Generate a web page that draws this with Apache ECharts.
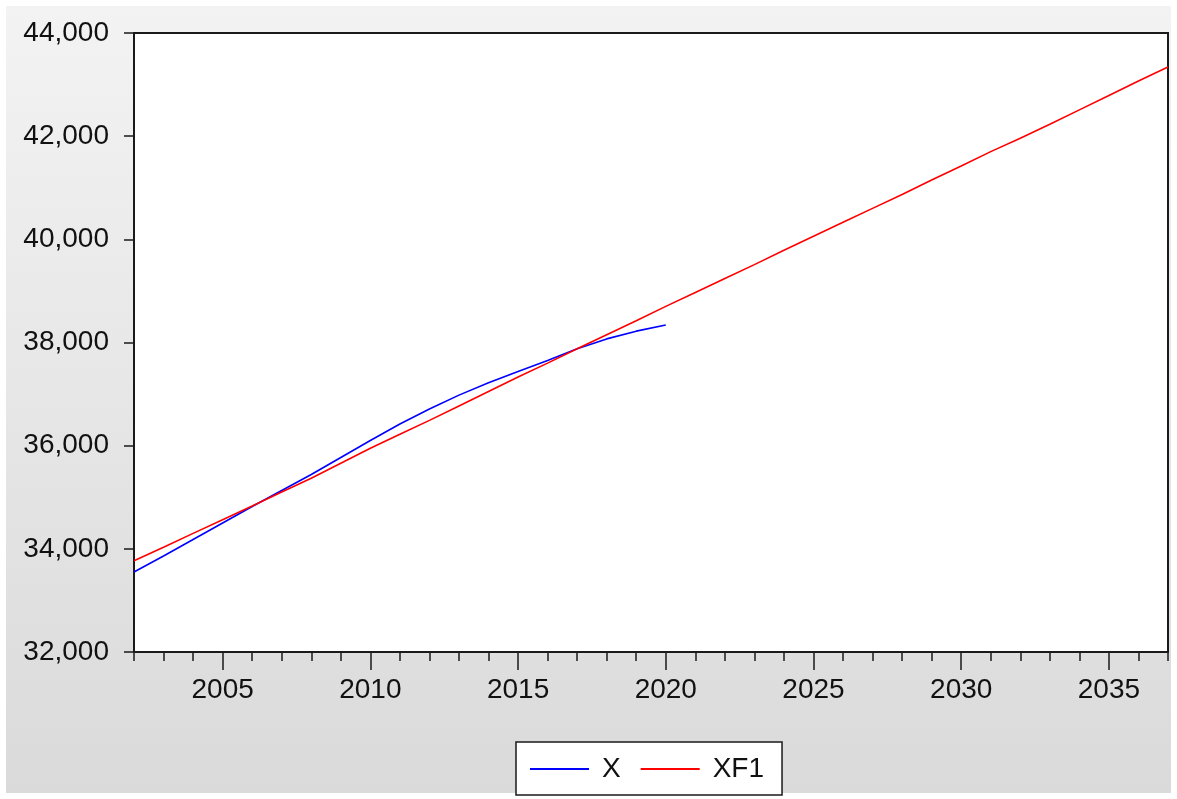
<!DOCTYPE html>
<html>
<head>
<meta charset="utf-8">
<script src="https://cdn.jsdelivr.net/npm/echarts@6/dist/echarts.min.js"></script>
<style>
  html, body { margin: 0; padding: 0; background: #fff; }
  #chart { width: 1177px; height: 799px; }
</style>
</head>
<body>
<div id="chart"></div>
<script>
// 年份 2002 - 2037
const years = []
for (let y = 2002; y <= 2037; y++) years.push(String(y))

// 实际值 X (2002-2020)
const xValues = [
  33550, 33860, 34180, 34500, 34820, 35130, 35440, 35770, 36100, 36420,
  36710, 36980, 37220, 37440, 37650, 37880, 38070, 38220, 38340
]

// 预测值 XF1 (2002-2037)
const xf1Values = [
  33770, 34030, 34300, 34565, 34830, 35100, 35370, 35660, 35950, 36220,
  36490, 36770, 37050, 37330, 37600, 37880, 38150, 38420, 38700, 38970,
  39240, 39510, 39790, 40060, 40330, 40600, 40870, 41150, 41420, 41700,
  41960, 42230, 42510, 42790, 43070, 43340
]

const seriesNames = ['X', 'XF1']
const yTicks = { min: 32000, max: 44000, step: 2000 }

const font = 'Arial, "Liberation Sans", sans-serif'
const chart = echarts.init(document.getElementById('chart'))

const option = {
  animation: false,
  graphic: [
    {
      type: 'rect',
      z: -10,
      silent: true,
      shape: { x: 6, y: 6, width: 1165, height: 787 },
      style: {
        fill: new echarts.graphic.LinearGradient(0, 0, 0, 1, [
          { offset: 0, color: '#f3f3f3' },
          { offset: 1, color: '#dadada' },
        ]),
      },
    },
  ],
  grid: {
    left: 134,
    top: 33,
    width: 1034,
    height: 619,
    show: true,
    backgroundColor: '#ffffff',
    borderColor: '#1a1a1a',
    borderWidth: 2,
    z: 1,
  },
  legend: {
    data: seriesNames,
    left: 516,
    top: 742,
    padding: [13, 18, 12, 14],
    icon: 'rect',
    itemWidth: 59,
    itemHeight: 2,
    itemGap: 20,
    backgroundColor: '#ffffff',
    borderColor: '#1a1a1a',
    borderWidth: 1.5,
    textStyle: { fontFamily: font, fontSize: 28, color: '#111', padding: [0, 0, 0, 8] },
  },
  xAxis: [
    {
      type: 'category',
      data: years,
      boundaryGap: false,
      axisLine: { show: false },
      axisTick: {
        show: true,
        length: 9,
        interval: 0,
        lineStyle: { color: '#1a1a1a', width: 1.5 },
      },
      axisLabel: {
        margin: 24,
        interval: (idx, val) => Number(val) % 5 === 0,
        fontFamily: font,
        fontSize: 28,
        color: '#111',
      },
      splitLine: { show: false },
    },
    {
      // 每 5 年的长刻度
      type: 'category',
      data: years,
      position: 'bottom',
      boundaryGap: false,
      axisLine: { show: false },
      axisTick: {
        show: true,
        length: 18,
        interval: (idx, val) => Number(val) % 5 === 0,
        lineStyle: { color: '#1a1a1a', width: 1.5 },
      },
      axisLabel: { show: false },
      splitLine: { show: false },
    },
  ],
  yAxis: {
    type: 'value',
    min: yTicks.min,
    max: yTicks.max,
    interval: yTicks.step,
    axisLine: { show: false },
    axisTick: { show: true, length: 10, lineStyle: { color: '#1a1a1a', width: 1.5 } },
    axisLabel: {
      margin: 25,
      fontFamily: font,
      fontSize: 28,
      color: '#111',
      formatter: (v) => v.toLocaleString('en-US'),
    },
    splitLine: { show: false },
  },
  series: [
    {
      name: seriesNames[0],
      type: 'line',
      data: xValues,
      symbol: 'none',
      z: 3,
      lineStyle: { color: '#0000ff', width: 1.6 },
      itemStyle: { color: '#0000ff' },
    },
    {
      name: seriesNames[1],
      type: 'line',
      data: xf1Values,
      symbol: 'none',
      z: 4,
      lineStyle: { color: '#ff0000', width: 1.6 },
      itemStyle: { color: '#ff0000' },
    },
  ],
}

chart.setOption(option)
</script>
</body>
</html>
